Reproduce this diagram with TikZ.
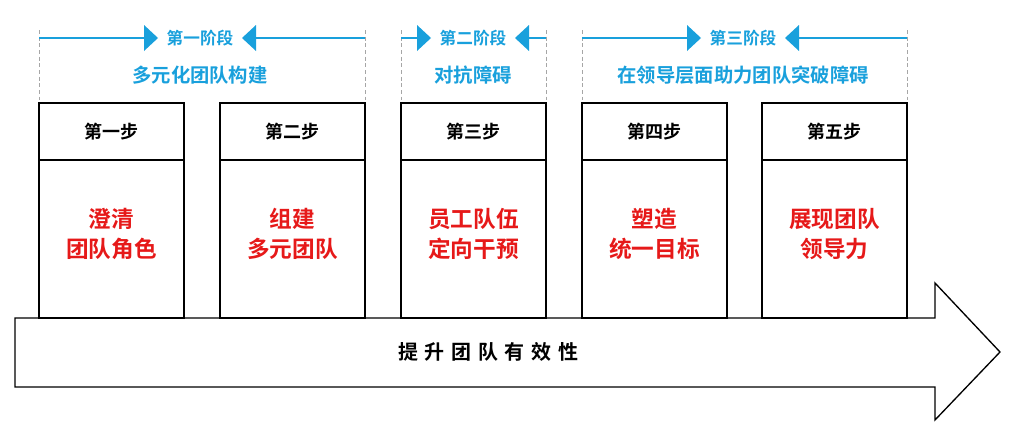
\documentclass[tikz,border=0pt]{standalone}
\usepackage{fontspec}
\setmainfont{Noto Sans CJK SC}[BoldFont={Noto Sans CJK SC Bold}]
\definecolor{cy}{RGB}{25,160,220}
\definecolor{rd}{RGB}{230,25,25}
\begin{document}
\begin{tikzpicture}[x=0.75pt,y=-0.75pt,
  hdr/.style={font=\bfseries\fontsize{13.5}{15}\selectfont},
  body/.style={font=\bfseries\fontsize{17}{23}\selectfont,text=rd,align=center},
  stg/.style={font=\bfseries\fontsize{12.5}{14}\selectfont,text=cy},
  stgt/.style={font=\bfseries\fontsize{14.5}{16}\selectfont,text=cy},
  dl/.style={densely dashed,gray!70,line width=0.6pt},
  tri/.style={fill=cy,draw=none}]
\useasboundingbox (0,0) rectangle (1015,439);
% arrow
\draw[line width=1pt,fill=white] (15,318) -- (935,318) -- (935,283) -- (1000,352) -- (935,420) -- (935,387) -- (15,387) -- cycle;
\node[font=\bfseries\fontsize{15}{17}\selectfont] (main) at (488,352) {提\,\,升\,\,团\,\,队\,\,有\,\,效\,\,性};
% boxes
\foreach \x/\n/\h/\b in {39/s1/第一步/{澄清\\团队角色},220/s2/第二步/{组建\\多元团队},401/s3/第三步/{员工队伍\\定向干预},582/s4/第四步/{塑造\\统一目标},762/s5/第五步/{展现团队\\领导力}}{
  \draw[line width=1pt] (\x,103) rectangle (\x+145,318);
  \draw[line width=0.8pt] (\x,160) -- (\x+145,160);
  \node[hdr] (\n h) at (\x+72.5,132) {\h};
  \node[body] (\n b) at (\x+72.5,234) {\b};
}
% stages
\foreach \a/\c/\bb/\t/\s/\w in {39/200/365/第一阶段/多元化团队构建/42,401/473/546/第二阶段/对抗障碍/42,582/743/907/第三阶段/在领导层面助力团队突破障碍/42}{
  \draw[dl] (\a,30) -- (\a,100);
  \draw[dl] (\bb,30) -- (\bb,100);
  \draw[cy,line width=0.8pt] (\a,38) -- (\c-\w-14,38);
  \draw[cy,line width=0.8pt] (\c+\w+14,38) -- (\bb,38);
  \fill[cy] (\c-\w-14,25) -- (\c-\w,38) -- (\c-\w-14,51) -- cycle;
  \fill[cy] (\c+\w+14,25) -- (\c+\w,38) -- (\c+\w+14,51) -- cycle;
  \node[stg] at (\c,38) {\t};
  \node[stgt] at (\c,75) {\s};
}
\end{tikzpicture}
\end{document}
